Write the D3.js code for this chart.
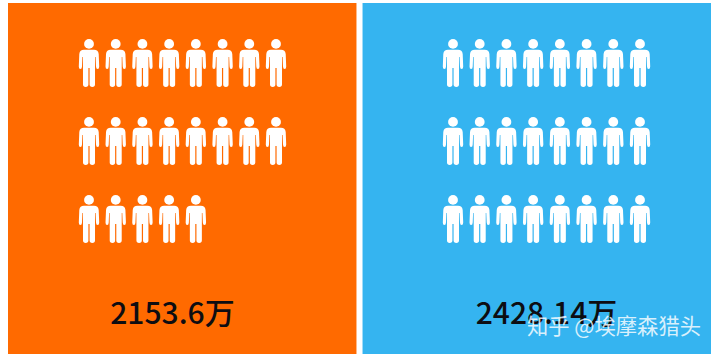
<!DOCTYPE html>
<html>
<head>
<meta charset="utf-8">
<script src="https://cdn.jsdelivr.net/npm/d3@7"></script>
<style>
  html, body { margin: 0; padding: 0; background: #fff; }
  svg { display: block; }
</style>
</head>
<body>
<div id="chart"></div>
<script>
// Data: one person per million, rounded down
const panelIds   = ["left", "right"];
const totals     = [2153.6, 2428.14];
const iconCounts = [21, 24];
const panelFills = ["#ff6a00", "#35b4f0"];
const watermark  = "知乎 @埃摩森猎头";

const W = 720, H = 357;
const PER_ROW = 8, ROWS = 3;

// Person glyph, drawn around x=0 from y=0 down to y=48
const PERSON = "M-5,10.8 H5 Q9.2,10.8 9.7,15 L10.2,27.5 Q10.2,30 8.6,30 Q7.1,30 7,27.5 L6.6,18 L6,18 V45.6 " +
  "Q6,48 3.3,48 Q0.6,48 0.6,45.6 V29 H-0.6 V45.6 Q-0.6,48 -3.3,48 Q-6,48 -6,45.6 V18 L-6.6,18 " +
  "L-7,27.5 Q-7.1,30 -8.6,30 Q-10.2,30 -10.2,27.5 L-9.7,15 Q-9.2,10.8 -5,10.8 Z";

const svg = d3.select("#chart").append("svg").attr("width", W).attr("height", H);

const panel = d3.scaleBand().domain(panelIds).range([8, 711]).paddingInner(0.0171);
const rowY = d3.scalePoint().domain(d3.range(ROWS)).range([39, 195]);
const colRanges = [[89, 276], [453, 640]];
const textCenters = [172.5, 546.5];

panelIds.forEach((id, i) => {
  const x0 = panel(id);
  const g = svg.append("g");

  g.append("rect")
    .attr("x", x0).attr("y", 3)
    .attr("width", panel.bandwidth()).attr("height", 351)
    .attr("fill", panelFills[i]);

  const colX = d3.scalePoint().domain(d3.range(PER_ROW)).range(colRanges[i]);

  const people = g.selectAll(".person").data(d3.range(iconCounts[i])).join("g")
    .attr("class", "person")
    .attr("fill", "#fff")
    .attr("transform", d => `translate(${colX(d % PER_ROW)},${rowY(Math.floor(d / PER_ROW))})`);
  people.append("circle").attr("cy", 4.9).attr("r", 4.9);
  people.append("path").attr("d", PERSON);

  g.append("text")
    .attr("x", textCenters[i]).attr("y", 323.5)
    .attr("text-anchor", "middle")
    .attr("font-family", "'Noto Sans CJK SC', 'Noto Sans', sans-serif")
    .attr("font-weight", 500)
    .attr("font-size", 30)
    .attr("fill", "#0d0d12")
    .text(`${totals[i]}万`);
});

// Site watermark over the right panel
svg.append("text")
  .attr("x", 527).attr("y", 334)
  .attr("font-family", "'Noto Sans CJK SC', sans-serif")
  .attr("font-size", 21.3)
  .attr("fill", "#fff")
  .attr("fill-opacity", 0.82)
  .text(watermark);
</script>
</body>
</html>
